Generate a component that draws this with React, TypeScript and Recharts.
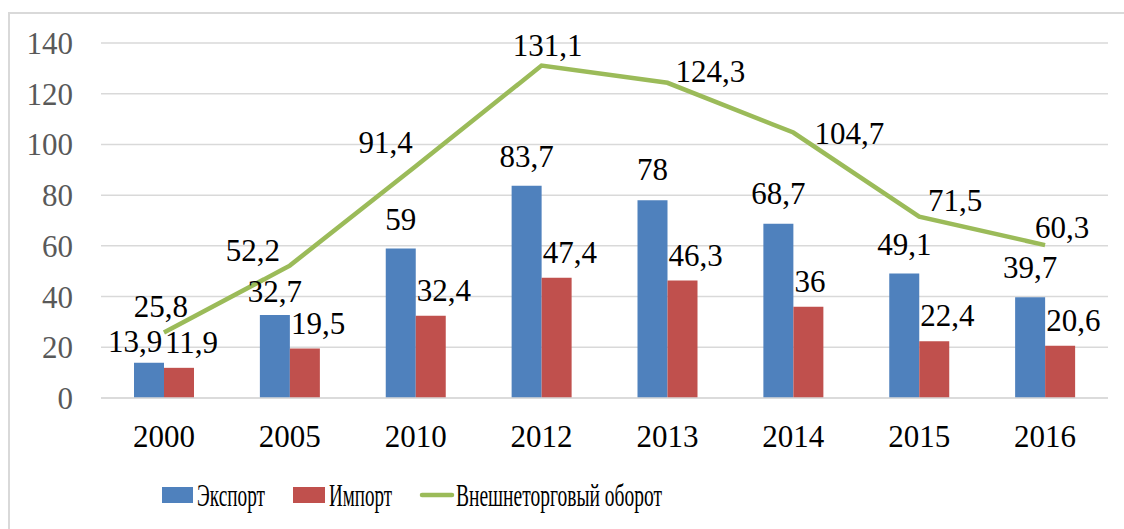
import React from "react";
import {
  ComposedChart,
  Bar,
  Line,
  XAxis,
  YAxis,
  CartesianGrid,
  Legend,
  LabelList,
} from "recharts";

const YEARS = ["2000", "2005", "2010", "2012", "2013", "2014", "2015", "2016"];
const EXPORT = [13.9, 32.7, 59, 83.7, 78, 68.7, 49.1, 39.7];
const IMPORT = [11.9, 19.5, 32.4, 47.4, 46.3, 36, 22.4, 20.6];
const TURNOVER = [25.8, 52.2, 91.4, 131.1, 124.3, 104.7, 71.5, 60.3];
const Y_TICKS = [0, 20, 40, 60, 80, 100, 120, 140];

const data = YEARS.map((year, i) => ({
  year,
  exp: EXPORT[i],
  imp: IMPORT[i],
  total: TURNOVER[i],
}));

const FONT = "'Liberation Serif', 'Times New Roman', serif";
const BLUE = "#4F81BD";
const RED = "#C0504D";
const GREEN = "#9BBB59";
const GRID = "#d9d9d9";
const txt = { fontFamily: FONT, fontSize: 31 };

// hand-placed label positions (as in the original excel chart)
const LINE_LABEL_SHIFT = [
  [-3, -16],
  [-37, -5],
  [-30, -13],
  [6, -10],
  [43, -1],
  [56, 11],
  [36, -6],
  [17, -7],
];
const EXPORT_LABEL_SHIFT = [
  [-14, 11],
  [0, 13],
  [0, 18],
  [0, 19],
  [0, 20],
  [0, 20],
  [0, 18],
  [0, 19],
];

const fmt = (v: any) => String(v).replace(".", ",");

const exportLabel = (props: any) => {
  const { x, y, width, value, index } = props;
  const [dx, gap] = EXPORT_LABEL_SHIFT[index] || [0, 19];
  return (
    <text x={x + width / 2 + dx} y={y - gap} textAnchor="middle" style={txt} fill="#000">
      {fmt(value)}
    </text>
  );
};

const importLabel = (props: any) => {
  const { x, y, value } = props;
  return (
    <text x={x + 1} y={y - 15} textAnchor="start" style={txt} fill="#000">
      {fmt(value)}
    </text>
  );
};

const lineLabel = (props: any) => {
  const { x, y, value, index } = props;
  const [dx, dy] = LINE_LABEL_SHIFT[index] || [0, -10];
  return (
    <text x={x + dx} y={y + dy} textAnchor="middle" style={txt} fill="#000">
      {fmt(value)}
    </text>
  );
};

const renderLegend = () => (
  <svg width={1114} height={60} style={{ display: "block" }}>
    <rect x={152} y={17} width={31} height={16} fill={BLUE} />
    <text x={187} y={36} style={txt} textLength={68} lengthAdjust="spacingAndGlyphs">
      Экспорт
    </text>
    <rect x={283} y={17} width={32} height={16} fill={RED} />
    <text x={319} y={36} style={txt} textLength={63} lengthAdjust="spacingAndGlyphs">
      Импорт
    </text>
    <line x1={412} y1={25} x2={442} y2={25} stroke={GREEN} strokeWidth={4.5} strokeLinecap="round" />
    <text x={446} y={36} style={txt} textLength={206} lengthAdjust="spacingAndGlyphs">
      Внешнеторговый оборот
    </text>
  </svg>
);

export default function App() {
  return (
    <div
      style={{
        position: "fixed",
        left: 8,
        top: 12,
        width: 1116,
        height: 517,
        boxSizing: "border-box",
        borderLeft: `2px solid ${GRID}`,
        borderTop: `2px solid ${GRID}`,
        background: "#fff",
        overflow: "hidden",
        fontFamily: FONT,
      }}
    >
      <ComposedChart
        width={1114}
        height={515}
        data={data}
        margin={{ top: 29, right: 16, bottom: 101, left: 0 }}
        barGap={0}
        barSize={30}
        style={{ fontFamily: FONT }}
      >
        <CartesianGrid vertical={false} stroke={GRID} strokeWidth={1.5} />
        <XAxis
          dataKey="year"
          height={30}
          axisLine={{ stroke: GRID, strokeWidth: 1.5 }}
          tickLine={false}
          tickSize={0}
          tickMargin={27}
          tick={{ fontSize: 31, fill: "#000", style: { fontFamily: FONT } }}
        />
        <YAxis
          width={91}
          domain={[0, 140]}
          ticks={Y_TICKS}
          axisLine={false}
          tickLine={false}
          tickSize={0}
          tickMargin={28}
          tick={{ fontSize: 31, fill: "#595959", style: { fontFamily: FONT } }}
        />
        <Legend
          layout="horizontal"
          verticalAlign="middle"
          align="center"
          content={renderLegend}
          wrapperStyle={{ left: 0, top: 456, width: 1114, height: 60 }}
        />
        <Bar dataKey="exp" name="Экспорт" fill={BLUE} isAnimationActive={false}>
          <LabelList dataKey="exp" content={exportLabel} />
        </Bar>
        <Bar dataKey="imp" name="Импорт" fill={RED} isAnimationActive={false}>
          <LabelList dataKey="imp" content={importLabel} />
        </Bar>
        <Line
          dataKey="total"
          name="Внешнеторговый оборот"
          type="linear"
          stroke={GREEN}
          strokeWidth={4.5}
          dot={false}
          activeDot={false}
          isAnimationActive={false}
        >
          <LabelList dataKey="total" content={lineLabel} />
        </Line>
      </ComposedChart>
    </div>
  );
}
